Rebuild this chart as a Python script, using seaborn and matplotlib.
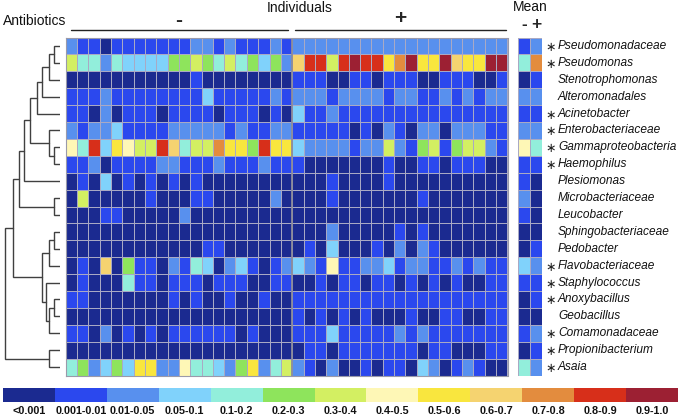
import numpy as np
import pandas as pd
import matplotlib
matplotlib.use("Agg")
import matplotlib.pyplot as plt
from matplotlib.colors import ListedColormap
import seaborn as sns

# ---------------- data ----------------
taxa = ["Pseudomonadaceae", "Pseudomonas", "Stenotrophomonas", "Alteromonadales",
        "Acinetobacter", "Enterobacteriaceae", "Gammaproteobacteria", "Haemophilus",
        "Plesiomonas", "Microbacteriaceae", "Leucobacter", "Sphingobacteriaceae",
        "Pedobacter", "Flavobacteriaceae", "Staphylococcus", "Anoxybacillus",
        "Geobacillus", "Comamonadaceae", "Propionibacterium", "Asaia"]
significant = [1, 1, 0, 0, 1, 1, 1, 1, 0, 0, 0, 0, 0, 1, 1, 1, 0, 1, 1, 1]

class_labels = ["<0.001", "0.001-0.01", "0.01-0.05", "0.05-0.1", "0.1-0.2", "0.2-0.3",
                "0.3-0.4", "0.4-0.5", "0.5-0.6", "0.6-0.7", "0.7-0.8", "0.8-0.9", "0.9-1.0"]
class_colors = ["#1b2a90", "#2b48ee", "#5890ee", "#80d2fb", "#92eedb", "#8ee45c",
                "#d3ef62", "#fef7b6", "#f9e63e", "#f5d370", "#e38c3e", "#d72f1a", "#9c2033"]

# abundance class per individual (index into class_labels), antibiotics "-" (20 individuals)
minus_rows = [
    [2, 1, 1, 0, 1, 1, 1, 1, 1, 1, 1, 2, 2, 1, 2, 1, 1, 1, 2, 1],
    [6, 4, 4, 2, 4, 3, 3, 3, 3, 5, 5, 6, 5, 4, 6, 4, 5, 3, 5, 2],
    [0, 0, 0, 0, 0, 0, 0, 0, 0, 0, 0, 1, 0, 0, 0, 0, 0, 0, 0, 0],
    [1, 1, 1, 2, 1, 1, 1, 1, 1, 1, 1, 1, 3, 1, 1, 1, 1, 1, 2, 1],
    [1, 1, 0, 2, 0, 1, 1, 1, 0, 1, 1, 1, 1, 0, 1, 1, 1, 0, 1, 0],
    [2, 1, 2, 2, 3, 1, 1, 1, 1, 2, 2, 2, 2, 2, 1, 2, 1, 1, 2, 2],
    [7, 4, 11, 3, 8, 7, 6, 6, 11, 9, 4, 6, 6, 10, 8, 8, 5, 11, 8, 8],
    [1, 1, 2, 0, 1, 1, 1, 1, 2, 2, 1, 1, 1, 2, 1, 1, 1, 2, 1, 1],
    [0, 1, 0, 3, 0, 1, 0, 1, 0, 1, 0, 1, 0, 0, 0, 0, 0, 0, 0, 0],
    [0, 6, 0, 0, 0, 0, 0, 1, 0, 0, 0, 1, 1, 0, 0, 0, 0, 0, 2, 0],
    [0, 0, 0, 1, 1, 0, 0, 0, 0, 0, 2, 0, 0, 0, 0, 0, 0, 0, 0, 0],
    [0, 0, 0, 0, 0, 0, 0, 0, 0, 0, 0, 0, 0, 0, 0, 0, 0, 0, 0, 0],
    [0, 0, 0, 0, 0, 0, 0, 0, 0, 0, 0, 0, 1, 1, 0, 0, 0, 0, 0, 0],
    [0, 1, 0, 9, 0, 5, 1, 1, 0, 2, 1, 4, 3, 0, 2, 3, 1, 0, 1, 2],
    [0, 1, 0, 0, 0, 4, 1, 1, 0, 1, 1, 1, 0, 1, 1, 1, 0, 0, 1, 1],
    [1, 1, 0, 0, 0, 0, 0, 0, 0, 1, 0, 1, 0, 0, 1, 0, 0, 1, 0, 0],
    [0, 0, 0, 0, 0, 0, 0, 0, 0, 0, 0, 0, 0, 0, 0, 0, 0, 0, 0, 0],
    [1, 1, 0, 2, 0, 1, 0, 1, 0, 1, 1, 1, 1, 1, 1, 0, 1, 0, 0, 0],
    [0, 0, 0, 0, 0, 0, 0, 0, 0, 0, 0, 0, 0, 0, 0, 0, 0, 0, 0, 0],
    [4, 5, 2, 3, 5, 3, 8, 8, 2, 2, 7, 4, 4, 3, 2, 5, 8, 2, 4, 6],
]
# antibiotics "+" (19 individuals)
plus_rows = [
    [2, 2, 2, 2, 2, 2, 2, 2, 2, 2, 2, 2, 2, 2, 2, 2, 2, 2, 2],
    [9, 11, 11, 6, 11, 12, 11, 11, 8, 10, 12, 8, 8, 12, 9, 8, 8, 12, 12],
    [1, 1, 1, 0, 0, 1, 1, 0, 1, 1, 1, 0, 0, 1, 1, 1, 0, 0, 1],
    [2, 2, 2, 1, 2, 2, 2, 2, 1, 2, 2, 1, 1, 2, 1, 2, 1, 2, 2],
    [3, 1, 1, 2, 1, 1, 1, 1, 1, 1, 1, 1, 1, 1, 1, 1, 1, 1, 1],
    [1, 1, 1, 1, 1, 0, 1, 0, 2, 1, 0, 2, 2, 0, 2, 2, 2, 1, 1],
    [3, 2, 2, 2, 2, 1, 2, 2, 6, 2, 1, 5, 6, 1, 5, 6, 6, 2, 1],
    [1, 0, 0, 0, 0, 0, 0, 0, 1, 0, 0, 1, 1, 0, 1, 1, 1, 0, 0],
    [0, 0, 0, 1, 0, 0, 0, 0, 1, 0, 0, 0, 0, 0, 0, 0, 0, 0, 0],
    [0, 0, 0, 1, 0, 0, 0, 0, 0, 0, 0, 1, 0, 0, 0, 0, 0, 0, 0],
    [0, 0, 0, 0, 0, 0, 0, 0, 0, 0, 0, 0, 0, 0, 0, 0, 0, 0, 0],
    [0, 0, 0, 2, 0, 0, 0, 0, 0, 1, 0, 1, 0, 0, 0, 0, 0, 0, 0],
    [0, 1, 0, 3, 0, 0, 0, 1, 0, 2, 0, 2, 1, 0, 0, 0, 0, 0, 0],
    [3, 2, 1, 7, 1, 1, 2, 2, 3, 1, 2, 2, 1, 1, 2, 1, 2, 1, 1],
    [0, 0, 1, 0, 1, 1, 0, 1, 1, 0, 1, 0, 1, 0, 1, 0, 0, 1, 1],
    [1, 1, 1, 1, 1, 1, 1, 1, 1, 1, 1, 1, 1, 1, 1, 1, 1, 1, 1],
    [1, 0, 1, 0, 1, 0, 1, 0, 0, 0, 1, 0, 0, 1, 1, 0, 0, 1, 1],
    [1, 1, 1, 3, 1, 1, 1, 1, 1, 2, 1, 2, 1, 1, 1, 1, 1, 1, 1],
    [0, 1, 1, 0, 1, 1, 1, 1, 1, 1, 1, 0, 1, 1, 0, 0, 0, 1, 1],
    [2, 1, 0, 2, 0, 0, 1, 0, 1, 1, 0, 3, 2, 0, 1, 2, 1, 0, 0],
]
mean_minus = [1, 4, 0, 2, 1, 2, 7, 1, 1, 2, 1, 0, 0, 3, 1, 0, 0, 1, 0, 4]
mean_plus = [2, 10, 1, 2, 1, 2, 4, 1, 0, 0, 0, 0, 1, 2, 1, 1, 0, 2, 1, 2]

# dendrogram merges: (child_a, child_b, height); leaves 0..19, new nodes numbered from 20
merges = [
    (0, 1, 5.7),     # 20
    (20, 2, 10.7),   # 21
    (21, 3, 16.7),   # 22
    (22, 4, 22.3),   # 23
    (6, 7, 5.7),     # 24
    (5, 24, 10.7),   # 25
    (23, 25, 28.3),  # 26
    (26, 8, 34.0),   # 27
    (9, 10, 5.7),    # 28
    (27, 28, 39.3),  # 29
    (11, 12, 5.7),   # 30
    (30, 13, 10.7),  # 31
    (15, 16, 5.7),   # 32
    (32, 17, 10.7),  # 33
    (14, 33, 13.3),  # 34
    (31, 34, 16.7),  # 35
    (29, 35, 45.0),  # 36
    (18, 19, 10.7),  # 37
    (36, 37, 52.7),  # 38
]

# ---------------- figure ----------------
sns.set_theme(style="white")
plt.rcParams['font.family'] = ['Liberation Sans', 'DejaVu Sans']

W, H = 680, 417
fig = plt.figure(figsize=(W / 100, H / 100), dpi=100)


def ax_px(x0, y0, x1, y1):
    return fig.add_axes([x0 / W, 1 - y1 / H, (x1 - x0) / W, (y1 - y0) / H])


cmap = ListedColormap(class_colors)
ncls = len(class_labels)
grid_col = "#a9a9c4"

n_minus = len(minus_rows[0])
matrix = pd.DataFrame([m + p for m, p in zip(minus_rows, plus_rows)], index=taxa)

ax = ax_px(65.5, 37.5, 507.5, 375.5)
sns.heatmap(matrix, ax=ax, cmap=cmap, vmin=-0.5, vmax=ncls - 0.5, cbar=False,
            linewidths=0.5, linecolor=grid_col, xticklabels=False, yticklabels=False)
ax.axvline(n_minus, color="#8c8c9c", lw=1.3)
for s in ax.spines.values():
    s.set_visible(True)
    s.set_color("#9a9aaa")
    s.set_linewidth(0.8)

means = pd.DataFrame({"-": mean_minus, "+": mean_plus}, index=taxa)
axm = ax_px(518, 37.5, 541.5, 375.5)
sns.heatmap(means, ax=axm, cmap=cmap, vmin=-0.5, vmax=ncls - 0.5, cbar=False,
            linewidths=0.5, linecolor=grid_col, xticklabels=False, yticklabels=False)

for i, name in enumerate(taxa):
    if significant[i]:
        axm.text(2.3, i + 0.62, "∗", ha="left", va="center", fontsize=9, color="#222222")
    axm.text(3.4, i + 0.5, name, ha="left", va="center", fontsize=8.6,
             style="italic", color="#111111")

# dendrogram
axd = ax_px(3, 37.5, 60, 375.5)
pos = {i: (i + 0.5, 0.0) for i in range(len(taxa))}
for k, (a, b, h) in enumerate(merges):
    ya, ha_ = pos[a]
    yb, hb = pos[b]
    axd.plot([ha_, h, h, hb], [ya, ya, yb, yb], color="#404040", lw=1.0,
             solid_joinstyle="miter")
    pos[len(taxa) + k] = ((ya + yb) / 2, h)
root_y, root_h = pos[len(taxa) + len(merges) - 1]
axd.set_xlim(root_h + 1.5, 0)
axd.set_ylim(len(taxa), 0)
axd.axis("off")

# header
fig.text(3 / W, 1 - 21 / H, "Antibiotics", fontsize=10, ha="left", va="center", color="#111111")
fig.text(300 / W, 1 - 8 / H, "Individuals", fontsize=10, ha="center", va="center", color="#111111")
fig.text(530 / W, 1 - 7 / H, "Mean", fontsize=10, ha="center", va="center", color="#111111")
fig.add_artist(plt.Line2D([71 / W, 288 / W], [1 - 29.5 / H] * 2, color="#222222", lw=1.0))
fig.add_artist(plt.Line2D([295 / W, 506 / W], [1 - 29.5 / H] * 2, color="#222222", lw=1.0))
fig.text(179 / W, 1 - 20 / H, "-", fontsize=15, fontweight="bold", ha="center", va="center")
fig.text(400 / W, 1 - 18 / H, "+", fontsize=15, fontweight="bold", ha="center", va="center")
fig.text(524 / W, 1 - 24 / H, "-", fontsize=12.5, fontweight="bold", ha="center", va="center")
fig.text(536 / W, 1 - 24 / H, "+", fontsize=12.5, fontweight="bold", ha="center", va="center")

# colour key
axc = ax_px(3, 388, 678, 402)
key = pd.DataFrame([list(range(ncls))], columns=class_labels)
sns.heatmap(key, ax=axc, cmap=cmap, vmin=-0.5, vmax=ncls - 0.5, cbar=False,
            xticklabels=True, yticklabels=False)
axc.tick_params(axis="x", length=0, pad=3, labelsize=7.8, rotation=0)
for t in axc.get_xticklabels():
    t.set_fontweight("bold")
    t.set_color("#111111")

fig.savefig("out.png", dpi=100)
